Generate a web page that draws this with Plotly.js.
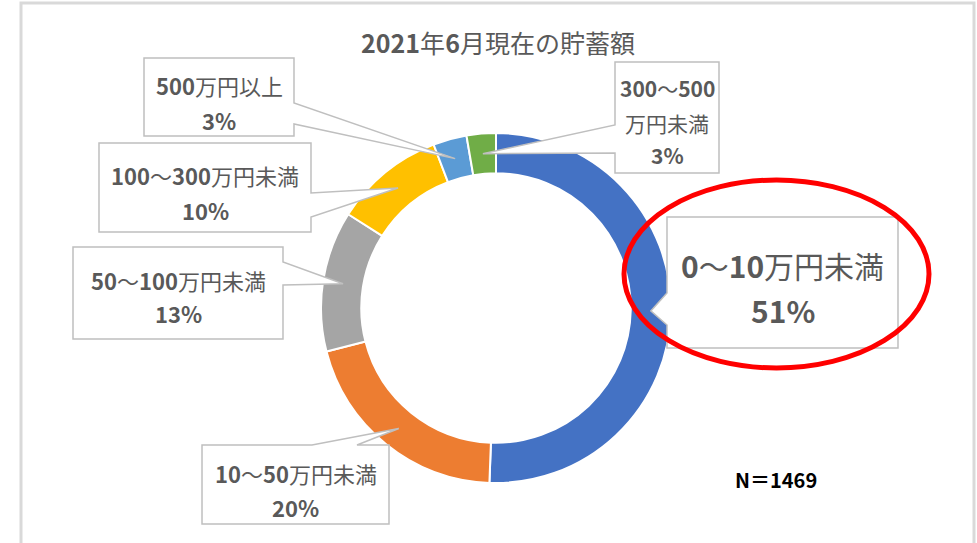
<!DOCTYPE html>
<html>
<head>
<meta charset="utf-8">
<script src="https://cdn.plot.ly/plotly-3.0.1.min.js"></script>
<style>html,body{margin:0;padding:0;background:#fff;}#chart{width:977px;height:543px;}</style>
</head>
<body>
<div id="chart"></div>
<script>
// ---- data ----
const categories = ['0～10万円未満', '10～50万円未満', '50～100万円未満', '100～300万円未満', '500万円以上', '300～500万円未満'];
const shares = [50.6, 20.4, 13.0, 10.2, 3.1, 2.7];
const sliceColors = ['#4472C4', '#ED7D31', '#A5A5A5', '#FFC000', '#5B9BD5', '#70AD47'];
const chartTitle = '2021年6月現在の貯蓄額';
const sampleNote = 'N＝1469';

// ---- geometry / styling ----
const W = 977, H = 543;
const CX = 496, CY = 308, R = 175, HOLE = 0.77;
const FONT = '"Noto Sans CJK JP", "Noto Sans", sans-serif';
const TXT = '#595959';

// label boxes (pixel coords), side = where the callout wedge leaves the box
const boxes = [
  {x0: 667, y0: 217, x1: 898, y1: 348, side: 'left',  b0: 293, b1: 325, ys: [265, 310], size: 30},
  {x0: 202, y0: 445, x1: 389, y1: 524, side: 'top',   b0: 312, b1: 357, ys: [473, 507], size: 22},
  {x0: 73,  y0: 247, x1: 283, y1: 339, side: 'right', b0: 262, b1: 285, ys: [280, 313], size: 22},
  {x0: 99,  y0: 143, x1: 311, y1: 232, side: 'right', b0: 193, b1: 217, ys: [175, 210], size: 22},
  {x0: 144, y0: 58,  x1: 294, y1: 136, side: 'right', b0: 103, b1: 124, ys: [85, 120], size: 22},
  {x0: 615, y0: 62,  x1: 719, y1: 173, side: 'left',  b0: 125, b1: 153, ys: [88, 123, 155], size: 21, split: true}
];

const px = x => x / W;
const py = y => 1 - y / H;
const P = (x, y) => px(x).toFixed(5) + ',' + py(y).toFixed(5);
const fmt = s => s.replace(/([0-9%]+)/g, '<b>$1</b>');

const total = shares.reduce((a, b) => a + b, 0);
const pct = shares.map(v => Math.round(v / total * 100) + '%');

// slice mid angles -> callout tips
let cum = 0;
const RM = R * (1 + HOLE) / 2;
const tips = shares.map(v => {
  const mid = (cum + v / 2) / total;
  cum += v;
  const th = 2 * Math.PI * mid;
  return [CX + RM * Math.sin(th), CY - RM * Math.cos(th)];
});

const shapes = [];
shapes.push({type: 'rect', xref: 'paper', yref: 'paper', x0: px(21), x1: px(974), y0: py(3), y1: py(580),
  line: {color: '#D9D9D9', width: 3}, fillcolor: 'rgba(0,0,0,0)', layer: 'below'});

const annotations = [];
boxes.forEach((b, i) => {
  const [tx, ty] = tips[i];
  let pts;
  if (b.side === 'right') {
    pts = [[b.x0, b.y0], [b.x1, b.y0], [b.x1, b.b0], [tx, ty], [b.x1, b.b1], [b.x1, b.y1], [b.x0, b.y1]];
  } else if (b.side === 'left') {
    pts = [[b.x0, b.y0], [b.x1, b.y0], [b.x1, b.y1], [b.x0, b.y1], [b.x0, b.b1], [tx, ty], [b.x0, b.b0]];
  } else {
    pts = [[b.x0, b.y0], [b.b0, b.y0], [tx, ty], [b.b1, b.y0], [b.x1, b.y0], [b.x1, b.y1], [b.x0, b.y1]];
  }
  const path = 'M ' + pts.map(p => P(p[0], p[1])).join(' L ') + ' Z';
  shapes.push({type: 'path', xref: 'paper', yref: 'paper', path: path,
    fillcolor: '#FFFFFF', line: {color: '#BFBFBF', width: 1.5}, layer: 'above'});

  let lines;
  const cat = categories[i];
  if (b.split) {
    const k = cat.indexOf('万');
    lines = [cat.slice(0, k), cat.slice(k), pct[i]];
  } else {
    lines = [cat, pct[i]];
  }
  const cx = (b.x0 + b.x1) / 2;
  lines.forEach((t, j) => {
    annotations.push({xref: 'paper', yref: 'paper', x: px(cx), y: py(b.ys[j]),
      xanchor: 'center', yanchor: 'middle', showarrow: false, text: fmt(t),
      font: {family: FONT, size: b.size, color: TXT}});
  });
});

// red highlight ellipse
shapes.push({type: 'circle', xref: 'paper', yref: 'paper', x0: px(624), x1: px(929), y0: py(180), y1: py(368),
  line: {color: '#FF0000', width: 5}, fillcolor: 'rgba(0,0,0,0)', layer: 'above'});

annotations.push({xref: 'paper', yref: 'paper', x: px(776), y: py(479), xanchor: 'center', yanchor: 'middle',
  showarrow: false, text: '<b>' + sampleNote + '</b>', font: {family: FONT, size: 20, color: '#000000'}});

const trace = {
  type: 'pie',
  labels: categories,
  values: shares,
  sort: false,
  direction: 'clockwise',
  rotation: 0,
  hole: HOLE,
  textinfo: 'none',
  hoverinfo: 'label+percent',
  marker: {colors: sliceColors, line: {color: '#FFFFFF', width: 2}},
  domain: {x: [px(CX - R), px(CX + R)], y: [py(CY + R), py(CY - R)]}
};

const layout = {
  width: W, height: H,
  margin: {l: 0, r: 0, t: 0, b: 0},
  paper_bgcolor: '#FFFFFF',
  showlegend: false,
  title: {text: fmt(chartTitle), x: px(498), y: py(44), xref: 'paper', yref: 'paper',
    xanchor: 'center', yanchor: 'middle', font: {family: FONT, size: 25, color: TXT}},
  shapes: shapes,
  annotations: annotations
};

Plotly.newPlot('chart', [trace], layout, {displayModeBar: false, staticPlot: true});
</script>
</body>
</html>
